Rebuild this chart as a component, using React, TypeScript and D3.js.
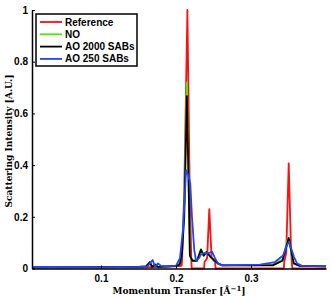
import * as d3 from "d3";
import { useEffect, useRef } from "react";

type Pt = [number, number];

// [q (1/Å), intensity]
const reference: Pt[] = [
  [0.008, 0.003], [0.05, 0.005], [0.1, 0.003], [0.15, 0.004], [0.18, 0.006],
  [0.2, 0.008], [0.2075, 0.01], [0.208, 0.025], [0.211, 0.3], [0.2152, 1.0],
  [0.2183, 0.3], [0.2205, 0.025], [0.221, 0.0], [0.2375, 0.0], [0.238, 0.025],
  [0.2415, 0.04], [0.2444, 0.23], [0.2475, 0.04], [0.2522, 0.025], [0.2527, 0.0],
  [0.3438, 0.0], [0.3443, 0.025], [0.347, 0.06], [0.3503, 0.407], [0.3535, 0.06],
  [0.3545, 0.025], [0.355, 0.0], [0.4, 0.0],
];

const no: Pt[] = [
  [0.008, 0.004], [0.05, 0.004], [0.1, 0.005], [0.15, 0.006], [0.16, 0.008],
  [0.1653, 0.022], [0.168, 0.006], [0.172, 0.018], [0.176, 0.006], [0.19, 0.008],
  [0.2, 0.01], [0.205, 0.02], [0.208, 0.08], [0.211, 0.25], [0.2145, 0.72],
  [0.217, 0.3], [0.2185, 0.05], [0.222, 0.03], [0.228, 0.03], [0.2333, 0.075],
  [0.2369, 0.05], [0.2409, 0.066], [0.246, 0.045], [0.2556, 0.02], [0.262, 0.012],
  [0.3, 0.012], [0.329, 0.015], [0.342, 0.035], [0.3485, 0.11], [0.35, 0.115],
  [0.357, 0.02], [0.365, 0.01], [0.4, 0.008],
];

const ao2000: Pt[] = [
  [0.008, 0.004], [0.05, 0.004], [0.1, 0.005], [0.15, 0.006], [0.16, 0.008],
  [0.1653, 0.025], [0.168, 0.006], [0.172, 0.015], [0.176, 0.006], [0.19, 0.008],
  [0.2, 0.01], [0.205, 0.015], [0.208, 0.06], [0.211, 0.2], [0.2145, 0.667],
  [0.217, 0.3], [0.2185, 0.05], [0.222, 0.03], [0.228, 0.03], [0.2333, 0.073],
  [0.2369, 0.05], [0.2409, 0.064], [0.246, 0.045], [0.2556, 0.02], [0.262, 0.012],
  [0.3, 0.012], [0.329, 0.012], [0.342, 0.03], [0.3503, 0.118], [0.357, 0.02],
  [0.365, 0.01], [0.4, 0.008],
];

const ao250: Pt[] = [
  [0.008, 0.005], [0.05, 0.005], [0.1, 0.004], [0.15, 0.006], [0.162, 0.008],
  [0.1689, 0.033], [0.172, 0.006], [0.176, 0.02], [0.18, 0.01], [0.19, 0.008],
  [0.2, 0.01], [0.2053, 0.04], [0.2093, 0.15], [0.2135, 0.38], [0.2165, 0.36],
  [0.219, 0.33], [0.2213, 0.2], [0.2244, 0.07], [0.2267, 0.03], [0.2307, 0.04],
  [0.2333, 0.055], [0.2387, 0.06], [0.244, 0.06], [0.248, 0.065], [0.252, 0.04],
  [0.256, 0.02], [0.2613, 0.012], [0.312, 0.015], [0.332, 0.025], [0.3427, 0.05],
  [0.348, 0.09], [0.3507, 0.104], [0.3533, 0.08], [0.3573, 0.045], [0.3613, 0.02],
  [0.368, 0.01], [0.4, 0.008],
];

const seriesNames = ["Reference", "NO", "AO 2000 SABs", "AO 250 SABs"];
const seriesData = [reference, no, ao2000, ao250];
const seriesColors = ["#ff1010", "#44ee00", "#000000", "#2244ff"];

const xTicks = [0.1, 0.2, 0.3];
const yTicks = [0, 0.2, 0.4, 0.6, 0.8, 1];

const App = () => {
  const ref = useRef<SVGSVGElement>(null);

  useEffect(() => {
    const svg = d3.select(ref.current);
    svg.selectAll("*").remove();

    const x = d3.scaleLinear().domain([0.008, 0.4]).range([32, 326]);
    const y = d3.scaleLinear().domain([0, 1]).range([268.5, 10]);

    const line = d3
      .line<Pt>()
      .x(d => x(d[0]))
      .y(d => y(d[1]));

    seriesData.forEach((data, i) => {
      svg.append("path")
        .datum(data)
        .attr("d", line)
        .attr("fill", "none")
        .attr("stroke", seriesColors[i])
        .attr("stroke-width", 1.8)
        .attr("stroke-linejoin", "round");
    });

    // axes, ticks pointing inward like matlab
    const xAxis = d3.axisBottom(x).tickValues(xTicks).tickSizeInner(-3).tickSizeOuter(0).tickPadding(6)
      .tickFormat(d3.format(".1f"));
    const gx = svg.append("g").attr("transform", `translate(0, ${y(0)})`).call(xAxis);
    const yAxis = d3.axisLeft(y).tickValues(yTicks).tickSizeInner(-3).tickSizeOuter(0).tickPadding(4)
      .tickFormat(d => (d === 0 || d === 1 ? String(d) : d3.format(".1f")(d as number)));
    const gy = svg.append("g").attr("transform", `translate(${x(0.008)}, 0)`).call(yAxis);

    [gx, gy].forEach(g => {
      g.select(".domain").attr("stroke", "#000").attr("stroke-width", 1.5);
      g.selectAll(".tick line").attr("stroke", "#000");
      g.selectAll(".tick text")
        .attr("fill", "#000")
        .style("font-family", "Liberation Sans, Arial, sans-serif")
        .style("font-weight", "bold")
        .style("font-size", "10px");
    });

    // axis titles
    const xt = svg.append("text")
      .attr("x", 179)
      .attr("y", 294)
      .attr("text-anchor", "middle")
      .style("font-family", "DejaVu Serif, serif")
      .style("font-weight", "bold")
      .style("font-size", "9px");
    xt.append("tspan").text("Momentum Transfer [Å");
    xt.append("tspan").attr("dy", -3).style("font-size", "7px").text("−1");
    xt.append("tspan").attr("dy", 3).text("]");

    svg.append("text")
      .attr("transform", `translate(12, 141) rotate(-90)`)
      .attr("text-anchor", "middle")
      .style("font-family", "DejaVu Serif, serif")
      .style("font-weight", "bold")
      .style("font-size", "9px")
      .text("Scattering Intensity [A.U.]");

    // legend
    const lg = svg.append("g").attr("transform", "translate(36, 14)");
    lg.append("rect")
      .attr("width", 101)
      .attr("height", 52)
      .attr("fill", "#fff")
      .attr("stroke", "#000")
      .attr("stroke-width", 1.5);
    seriesNames.forEach((name, i) => {
      const yy = 8 + i * 12.3;
      lg.append("line")
        .attr("x1", 4).attr("x2", 26)
        .attr("y1", yy).attr("y2", yy)
        .attr("stroke", seriesColors[i])
        .attr("stroke-width", 1.8);
      lg.append("text")
        .attr("x", 29)
        .attr("y", yy + 3.5)
        .style("font-family", "Liberation Sans, Arial, sans-serif")
        .style("font-weight", "bold")
        .style("font-size", "10px")
        .text(name);
    });
  }, []);

  return (
    <svg
      ref={ref}
      width={332}
      height={298}
      style={{ position: "absolute", left: 0, top: 0, background: "#fff" }}
    />
  );
};

export default App;
